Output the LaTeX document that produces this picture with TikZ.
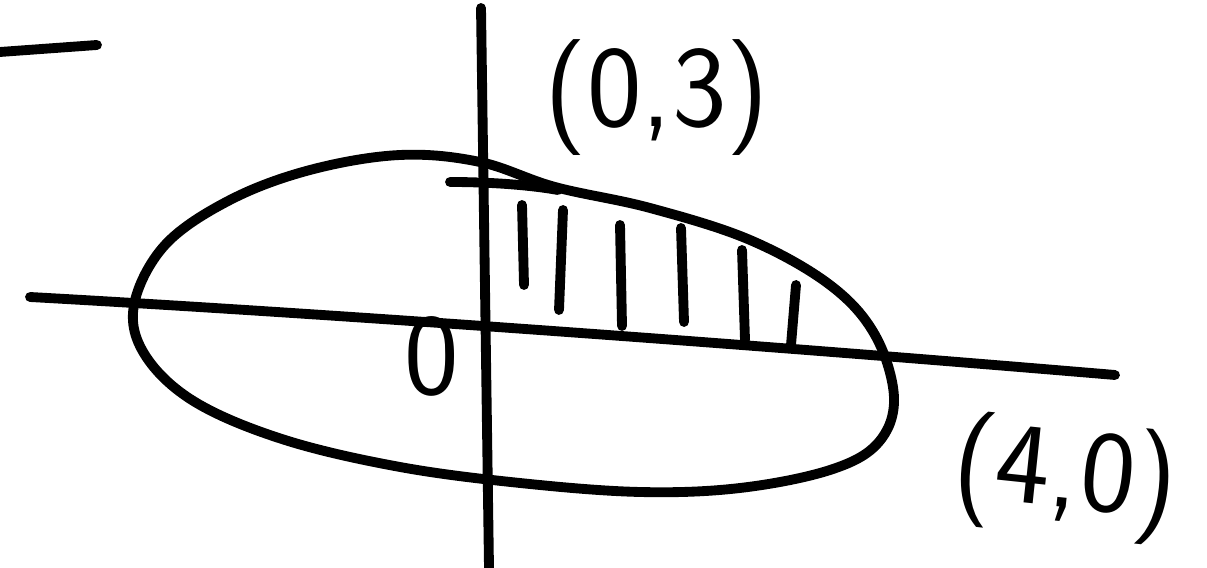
\documentclass[tikz,border=0pt]{standalone}
\usepackage{tikz}
\usetikzlibrary{arrows.meta}

\tikzset{
  pen/.style={line width=2.8pt,line cap=round,line join=round},
  hand/.style={font=\sffamily\fontsize{33}{36}\selectfont,inner sep=0pt}
}

\begin{document}
\begin{tikzpicture}[x=0.01cm,y=-0.01cm,pen]
  \useasboundingbox (0,0) rectangle (1207,568);
  % piece of a fraction bar at the top left
  \draw (0,52) -- (97,45);
  % axes
  \draw (30,297) .. controls (300,312) and (700,340) .. (1115,375);
  \draw (481,8) -- (489,568);
  % the ellipse
  \draw plot[smooth cycle,tension=0.6] coordinates {
    (134,305) (165,245) (230,200) (310,170) (400,155) (480,162)
    (555,187) (650,208) (750,240) (830,285) (875,335) (894,398)
    (878,443) (830,470) (740,488) (640,492) (520,483) (400,467)
    (285,440) (195,402) (145,355)};
  % top of the shaded part
  \draw (450,182) .. controls (490,182) and (530,185) .. (558,190);
  % hatching
  \foreach \xa/\ya/\xb/\yb in {522/205/524/285, 563/210/559/310,
      620/225/622/326, 681/228/684/322, 742/250/745/340, 796/285/791/345}
    \draw (\xa,\ya) -- (\xb,\yb);
  % labels
  \node[hand] (top) at (657,98) {(0,3)};
  \node[hand,rotate=-6] (right) at (1065,478) {(4,0)};
  \node[hand] (origin) at (432,356) {0};
\end{tikzpicture}
\end{document}
